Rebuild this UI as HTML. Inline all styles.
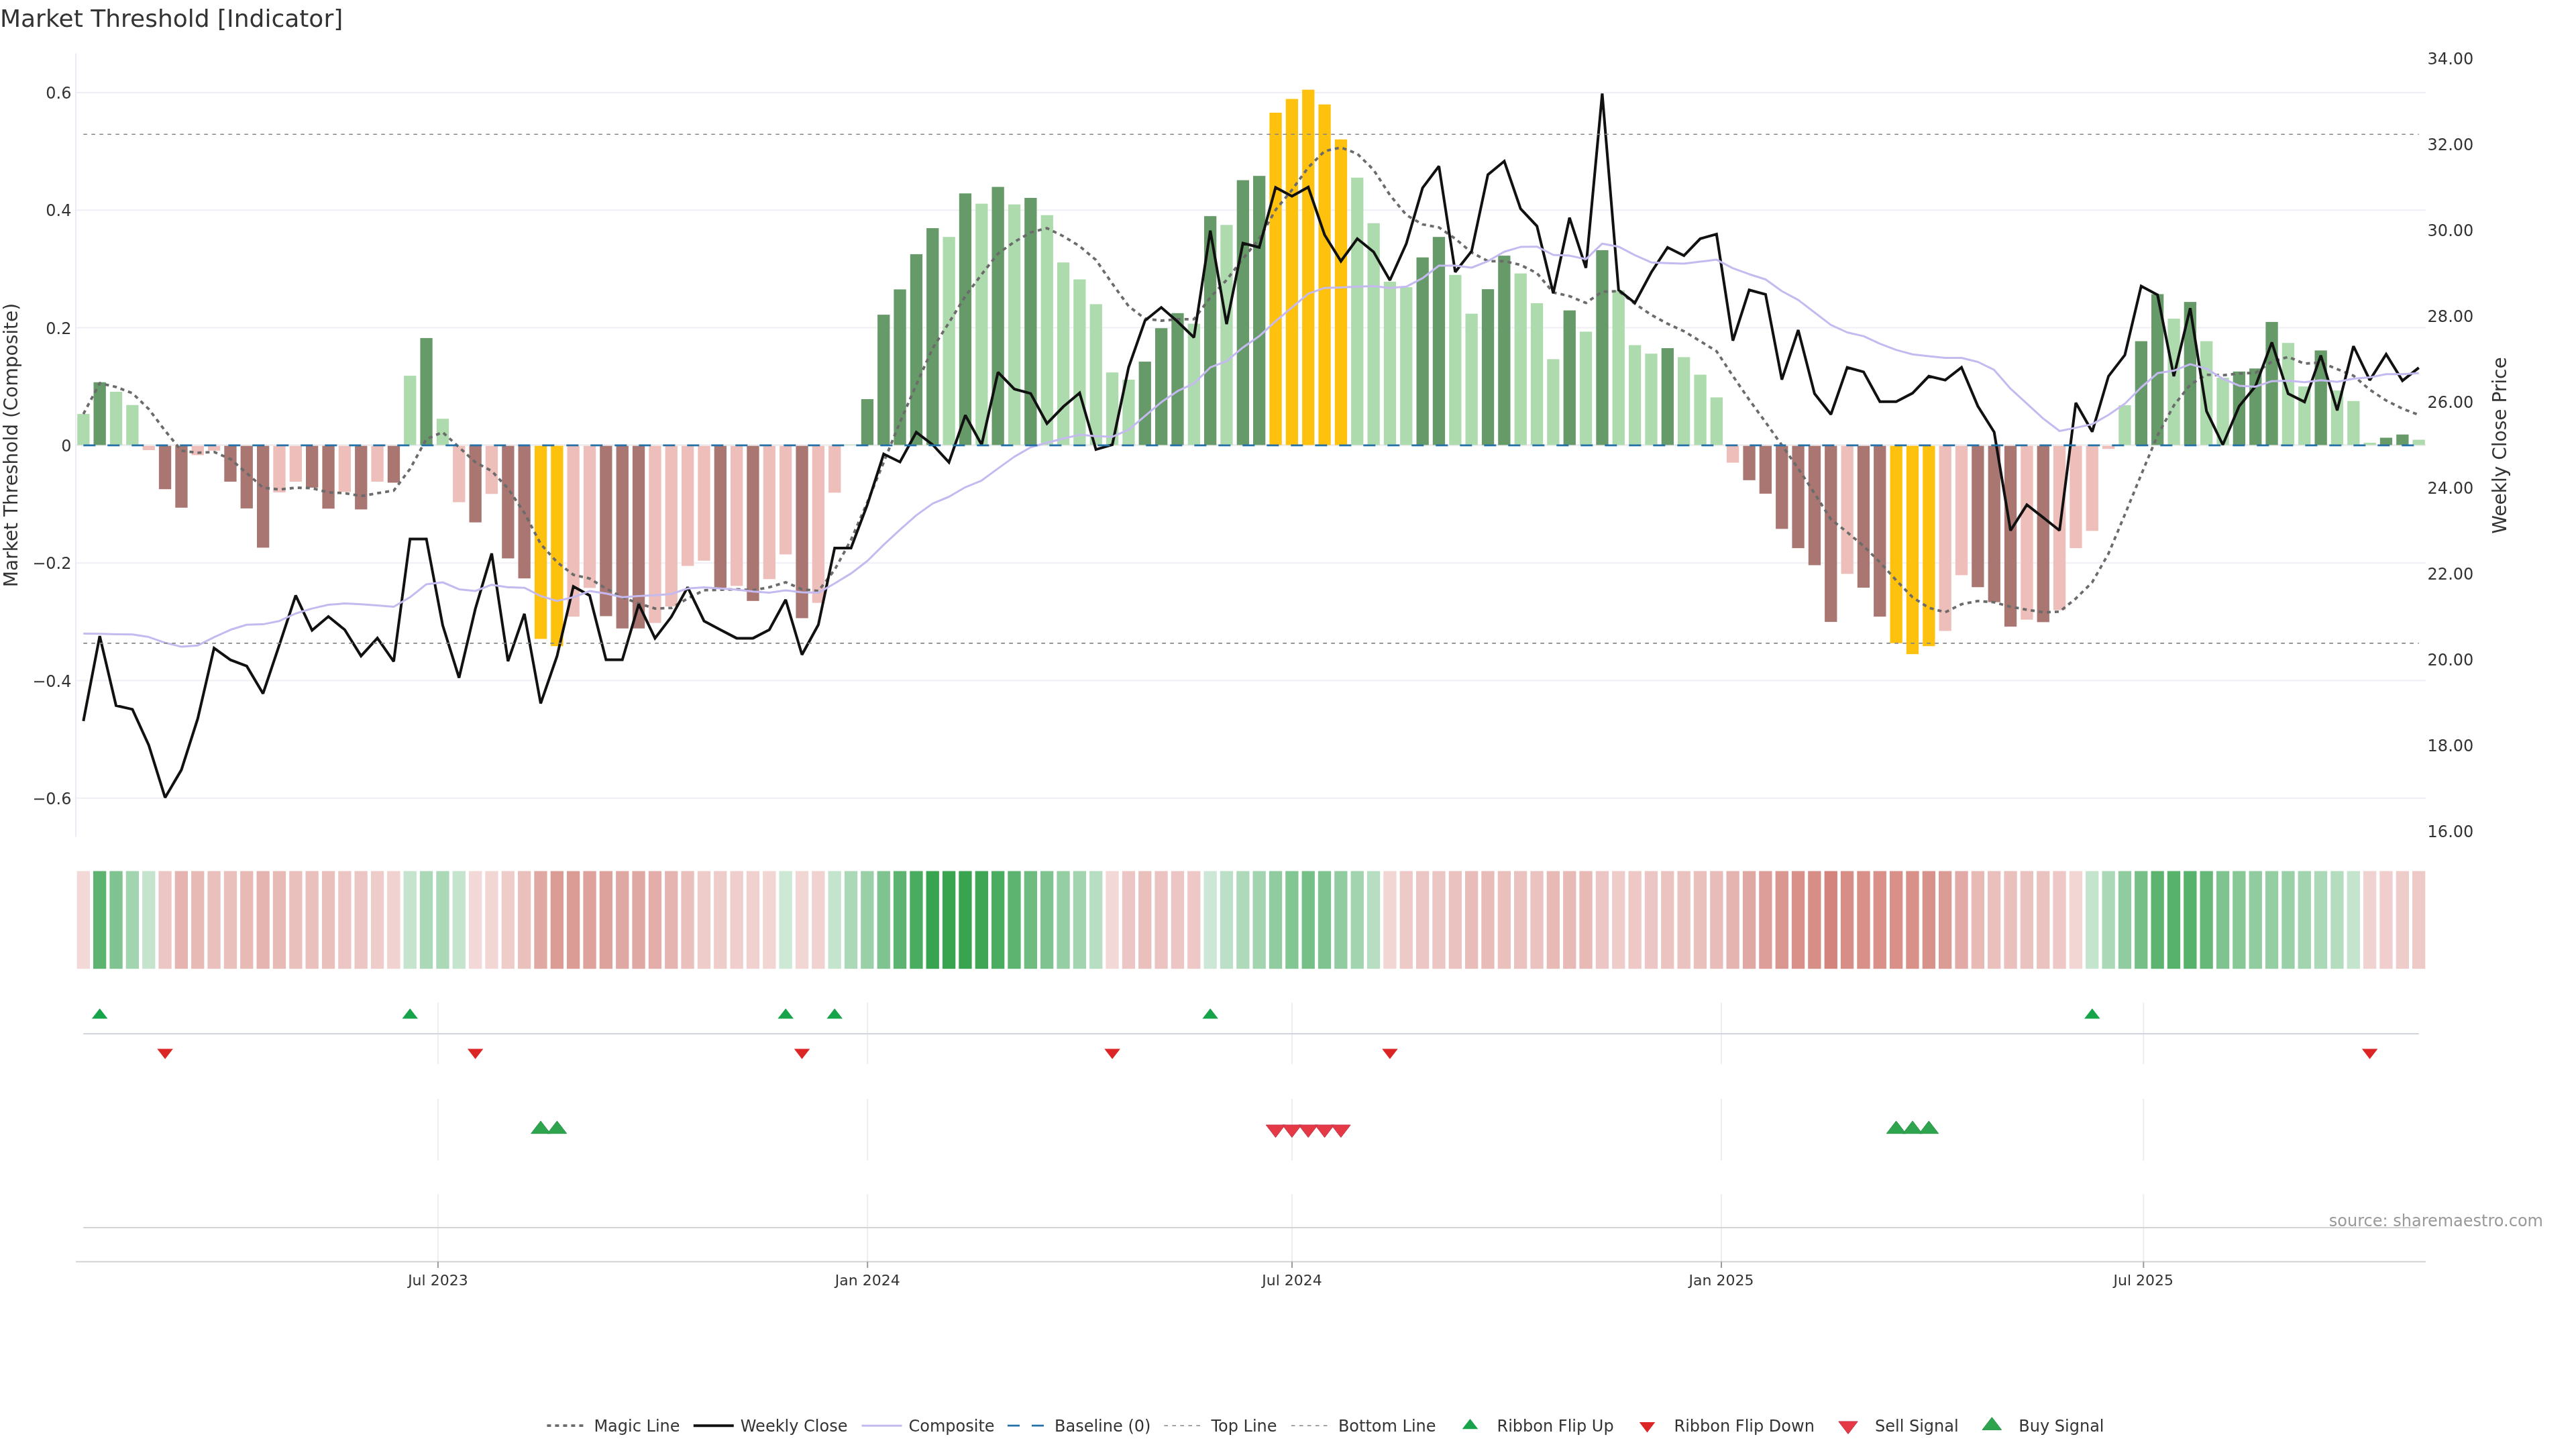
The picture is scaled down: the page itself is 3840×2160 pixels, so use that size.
<!DOCTYPE html>
<html lang="en">
<head>
<meta charset="utf-8">
<title>Market Threshold [Indicator]</title>
<style>
html,body{margin:0;padding:0;background:#ffffff;}
body{width:3840px;height:2160px;overflow:hidden;font-family:'DejaVu Sans','Liberation Sans',sans-serif;}
svg{display:block;will-change:transform;}
</style>
</head>
<body>
<svg width="3840" height="2160" viewBox="0 0 3840 2160">
<rect x="0" y="0" width="3840" height="2160" fill="#ffffff"/>
<g id="main-panel">
<line x1="113" x2="3616" y1="138" y2="138" stroke="#efeff5" stroke-width="2"/>
<line x1="113" x2="3616" y1="313.3" y2="313.3" stroke="#efeff5" stroke-width="2"/>
<line x1="113" x2="3616" y1="488.6" y2="488.6" stroke="#efeff5" stroke-width="2"/>
<line x1="113" x2="3616" y1="839.2" y2="839.2" stroke="#efeff5" stroke-width="2"/>
<line x1="113" x2="3616" y1="1014.5" y2="1014.5" stroke="#efeff5" stroke-width="2"/>
<line x1="113" x2="3616" y1="1189.8" y2="1189.8" stroke="#efeff5" stroke-width="2"/>
<line x1="113" x2="3616" y1="663.4" y2="663.4" stroke="#eeeef1" stroke-width="3"/>
<line x1="113" x2="113" y1="79.5" y2="1247.5" stroke="#ebebf3" stroke-width="2"/>
<g id="bars">
<rect x="115.2" y="617.1" width="18.3" height="46.3" fill="#aedbae"/>
<rect x="139.5" y="569.8" width="18.3" height="93.6" fill="#669a69"/>
<rect x="163.9" y="584" width="18.3" height="79.4" fill="#aedbae"/>
<rect x="188.2" y="603.7" width="18.3" height="59.7" fill="#aedbae"/>
<rect x="212.6" y="664.6" width="18.3" height="6.4" fill="#eebfba"/>
<rect x="236.9" y="664.6" width="18.3" height="64.6" fill="#a97671"/>
<rect x="261.3" y="664.6" width="18.3" height="92.2" fill="#a97671"/>
<rect x="285.6" y="664.6" width="18.3" height="13.9" fill="#eebfba"/>
<rect x="310" y="664.6" width="18.3" height="7.2" fill="#eebfba"/>
<rect x="334.3" y="664.6" width="18.3" height="53.4" fill="#a97671"/>
<rect x="358.6" y="664.6" width="18.3" height="93.3" fill="#a97671"/>
<rect x="383" y="664.6" width="18.3" height="151.8" fill="#a97671"/>
<rect x="407.3" y="664.6" width="18.3" height="69.4" fill="#eebfba"/>
<rect x="431.7" y="664.6" width="18.3" height="53.4" fill="#eebfba"/>
<rect x="456" y="664.6" width="18.3" height="62.3" fill="#a97671"/>
<rect x="480.4" y="664.6" width="18.3" height="93.6" fill="#a97671"/>
<rect x="504.7" y="664.6" width="18.3" height="68.7" fill="#eebfba"/>
<rect x="529.1" y="664.6" width="18.3" height="94.8" fill="#a97671"/>
<rect x="553.4" y="664.6" width="18.3" height="53.4" fill="#eebfba"/>
<rect x="577.8" y="664.6" width="18.3" height="54.9" fill="#a97671"/>
<rect x="602.1" y="560.1" width="18.3" height="103.3" fill="#aedbae"/>
<rect x="626.4" y="503.9" width="18.3" height="159.5" fill="#669a69"/>
<rect x="650.8" y="624.2" width="18.3" height="39.2" fill="#aedbae"/>
<rect x="675.1" y="664.6" width="18.3" height="84" fill="#eebfba"/>
<rect x="699.5" y="664.6" width="18.3" height="114.1" fill="#a97671"/>
<rect x="723.8" y="664.6" width="18.3" height="71.7" fill="#eebfba"/>
<rect x="748.2" y="664.6" width="18.3" height="167.8" fill="#a97671"/>
<rect x="772.5" y="664.6" width="18.3" height="197.6" fill="#a97671"/>
<rect x="796.9" y="664.6" width="18.3" height="287.8" fill="#fec10d"/>
<rect x="821.2" y="664.6" width="18.3" height="298.6" fill="#fec10d"/>
<rect x="845.5" y="664.6" width="18.3" height="254.6" fill="#eebfba"/>
<rect x="869.9" y="664.6" width="18.3" height="211.8" fill="#eebfba"/>
<rect x="894.2" y="664.6" width="18.3" height="253.9" fill="#a97671"/>
<rect x="918.6" y="664.6" width="18.3" height="272.2" fill="#a97671"/>
<rect x="942.9" y="664.6" width="18.3" height="272.2" fill="#a97671"/>
<rect x="967.3" y="664.6" width="18.3" height="264" fill="#eebfba"/>
<rect x="991.6" y="664.6" width="18.3" height="239.4" fill="#eebfba"/>
<rect x="1016" y="664.6" width="18.3" height="179" fill="#eebfba"/>
<rect x="1040.3" y="664.6" width="18.3" height="171.2" fill="#eebfba"/>
<rect x="1064.7" y="664.6" width="18.3" height="211.4" fill="#a97671"/>
<rect x="1089" y="664.6" width="18.3" height="208.8" fill="#eebfba"/>
<rect x="1113.3" y="664.6" width="18.3" height="231.2" fill="#a97671"/>
<rect x="1137.7" y="664.6" width="18.3" height="198.7" fill="#eebfba"/>
<rect x="1162" y="664.6" width="18.3" height="161.8" fill="#eebfba"/>
<rect x="1186.4" y="664.6" width="18.3" height="256.9" fill="#a97671"/>
<rect x="1210.7" y="664.6" width="18.3" height="234.1" fill="#eebfba"/>
<rect x="1235.1" y="664.6" width="18.3" height="69.8" fill="#eebfba"/>
<rect x="1259.4" y="662.6" width="18.3" height="0.8" fill="#aedbae"/>
<rect x="1283.8" y="595" width="18.3" height="68.4" fill="#669a69"/>
<rect x="1308.1" y="469.1" width="18.3" height="194.3" fill="#669a69"/>
<rect x="1332.4" y="431.4" width="18.3" height="232" fill="#669a69"/>
<rect x="1356.8" y="378.9" width="18.3" height="284.5" fill="#669a69"/>
<rect x="1381.1" y="340.1" width="18.3" height="323.3" fill="#669a69"/>
<rect x="1405.5" y="353.2" width="18.3" height="310.2" fill="#aedbae"/>
<rect x="1429.8" y="288.3" width="18.3" height="375.1" fill="#669a69"/>
<rect x="1454.2" y="303.6" width="18.3" height="359.8" fill="#aedbae"/>
<rect x="1478.5" y="278.6" width="18.3" height="384.8" fill="#669a69"/>
<rect x="1502.9" y="304.7" width="18.3" height="358.7" fill="#aedbae"/>
<rect x="1527.2" y="295" width="18.3" height="368.4" fill="#669a69"/>
<rect x="1551.6" y="320.7" width="18.3" height="342.7" fill="#aedbae"/>
<rect x="1575.9" y="391.2" width="18.3" height="272.2" fill="#aedbae"/>
<rect x="1600.2" y="416.5" width="18.3" height="246.9" fill="#aedbae"/>
<rect x="1624.6" y="453.4" width="18.3" height="210" fill="#aedbae"/>
<rect x="1648.9" y="555.2" width="18.3" height="108.2" fill="#aedbae"/>
<rect x="1673.3" y="566" width="18.3" height="97.4" fill="#aedbae"/>
<rect x="1697.6" y="539.1" width="18.3" height="124.3" fill="#669a69"/>
<rect x="1722" y="489.2" width="18.3" height="174.2" fill="#669a69"/>
<rect x="1746.3" y="466.8" width="18.3" height="196.6" fill="#669a69"/>
<rect x="1770.7" y="482.5" width="18.3" height="180.9" fill="#aedbae"/>
<rect x="1795" y="322.2" width="18.3" height="341.2" fill="#669a69"/>
<rect x="1819.3" y="335.3" width="18.3" height="328.1" fill="#aedbae"/>
<rect x="1843.7" y="268.6" width="18.3" height="394.8" fill="#669a69"/>
<rect x="1868" y="262.2" width="18.3" height="401.2" fill="#669a69"/>
<rect x="1892.4" y="168" width="18.3" height="495.4" fill="#fec10d"/>
<rect x="1916.7" y="147.5" width="18.3" height="515.9" fill="#fec10d"/>
<rect x="1941.1" y="133.7" width="18.3" height="529.7" fill="#fec10d"/>
<rect x="1965.4" y="155.7" width="18.3" height="507.7" fill="#fec10d"/>
<rect x="1989.8" y="207.8" width="18.3" height="455.6" fill="#fec10d"/>
<rect x="2014.1" y="264.8" width="18.3" height="398.6" fill="#aedbae"/>
<rect x="2038.5" y="332.7" width="18.3" height="330.7" fill="#aedbae"/>
<rect x="2062.8" y="419.9" width="18.3" height="243.5" fill="#aedbae"/>
<rect x="2087.1" y="428.1" width="18.3" height="235.3" fill="#aedbae"/>
<rect x="2111.5" y="383.7" width="18.3" height="279.7" fill="#669a69"/>
<rect x="2135.8" y="353.2" width="18.3" height="310.2" fill="#669a69"/>
<rect x="2160.2" y="409.8" width="18.3" height="253.6" fill="#aedbae"/>
<rect x="2184.5" y="467.6" width="18.3" height="195.8" fill="#aedbae"/>
<rect x="2208.9" y="431.1" width="18.3" height="232.3" fill="#669a69"/>
<rect x="2233.2" y="381.1" width="18.3" height="282.3" fill="#669a69"/>
<rect x="2257.6" y="407.6" width="18.3" height="255.8" fill="#aedbae"/>
<rect x="2281.9" y="451.9" width="18.3" height="211.5" fill="#aedbae"/>
<rect x="2306.2" y="535.4" width="18.3" height="128" fill="#aedbae"/>
<rect x="2330.6" y="462.7" width="18.3" height="200.7" fill="#669a69"/>
<rect x="2354.9" y="494.4" width="18.3" height="169" fill="#aedbae"/>
<rect x="2379.3" y="372.9" width="18.3" height="290.5" fill="#669a69"/>
<rect x="2403.6" y="432.9" width="18.3" height="230.5" fill="#aedbae"/>
<rect x="2428" y="514.5" width="18.3" height="148.9" fill="#aedbae"/>
<rect x="2452.3" y="527.2" width="18.3" height="136.2" fill="#aedbae"/>
<rect x="2476.7" y="519" width="18.3" height="144.4" fill="#669a69"/>
<rect x="2501" y="532.4" width="18.3" height="131" fill="#aedbae"/>
<rect x="2525.4" y="558.5" width="18.3" height="104.9" fill="#aedbae"/>
<rect x="2549.7" y="592.4" width="18.3" height="71" fill="#aedbae"/>
<rect x="2574" y="664.6" width="18.3" height="25.1" fill="#eebfba"/>
<rect x="2598.4" y="664.6" width="18.3" height="51.2" fill="#a97671"/>
<rect x="2622.7" y="664.6" width="18.3" height="71.3" fill="#a97671"/>
<rect x="2647.1" y="664.6" width="18.3" height="123.8" fill="#a97671"/>
<rect x="2671.4" y="664.6" width="18.3" height="152.5" fill="#a97671"/>
<rect x="2695.8" y="664.6" width="18.3" height="177.9" fill="#a97671"/>
<rect x="2720.1" y="664.6" width="18.3" height="262.5" fill="#a97671"/>
<rect x="2744.5" y="664.6" width="18.3" height="190.9" fill="#eebfba"/>
<rect x="2768.8" y="664.6" width="18.3" height="211.4" fill="#a97671"/>
<rect x="2793.1" y="664.6" width="18.3" height="254.6" fill="#a97671"/>
<rect x="2817.5" y="664.6" width="18.3" height="294.1" fill="#fec10d"/>
<rect x="2841.8" y="664.6" width="18.3" height="310.5" fill="#fec10d"/>
<rect x="2866.2" y="664.6" width="18.3" height="298.6" fill="#fec10d"/>
<rect x="2890.5" y="664.6" width="18.3" height="275.9" fill="#eebfba"/>
<rect x="2914.9" y="664.6" width="18.3" height="192.8" fill="#eebfba"/>
<rect x="2939.2" y="664.6" width="18.3" height="210.7" fill="#a97671"/>
<rect x="2963.6" y="664.6" width="18.3" height="233" fill="#a97671"/>
<rect x="2987.9" y="664.6" width="18.3" height="269.5" fill="#a97671"/>
<rect x="3012.3" y="664.6" width="18.3" height="259.1" fill="#eebfba"/>
<rect x="3036.6" y="664.6" width="18.3" height="262.8" fill="#a97671"/>
<rect x="3060.9" y="664.6" width="18.3" height="244.9" fill="#eebfba"/>
<rect x="3085.3" y="664.6" width="18.3" height="152.5" fill="#eebfba"/>
<rect x="3109.6" y="664.6" width="18.3" height="126.8" fill="#eebfba"/>
<rect x="3134" y="664.6" width="18.3" height="4.6" fill="#eebfba"/>
<rect x="3158.3" y="604.1" width="18.3" height="59.3" fill="#aedbae"/>
<rect x="3182.7" y="508.6" width="18.3" height="154.8" fill="#669a69"/>
<rect x="3207" y="438.5" width="18.3" height="224.9" fill="#669a69"/>
<rect x="3231.4" y="475" width="18.3" height="188.4" fill="#aedbae"/>
<rect x="3255.7" y="450.1" width="18.3" height="213.3" fill="#669a69"/>
<rect x="3280" y="508.6" width="18.3" height="154.8" fill="#aedbae"/>
<rect x="3304.4" y="563.1" width="18.3" height="100.3" fill="#aedbae"/>
<rect x="3328.7" y="553.8" width="18.3" height="109.6" fill="#669a69"/>
<rect x="3353.1" y="549.3" width="18.3" height="114.1" fill="#669a69"/>
<rect x="3377.4" y="479.9" width="18.3" height="183.5" fill="#669a69"/>
<rect x="3401.8" y="511.2" width="18.3" height="152.2" fill="#aedbae"/>
<rect x="3426.1" y="576.1" width="18.3" height="87.3" fill="#aedbae"/>
<rect x="3450.5" y="522.4" width="18.3" height="141" fill="#669a69"/>
<rect x="3474.8" y="582.1" width="18.3" height="81.3" fill="#aedbae"/>
<rect x="3499.2" y="597.8" width="18.3" height="65.6" fill="#aedbae"/>
<rect x="3523.5" y="660" width="18.3" height="3.4" fill="#aedbae"/>
<rect x="3547.8" y="652.5" width="18.3" height="10.9" fill="#669a69"/>
<rect x="3572.2" y="647.7" width="18.3" height="15.7" fill="#669a69"/>
<rect x="3596.5" y="655.5" width="18.3" height="7.9" fill="#aedbae"/>
</g>
<polyline points="124.3,617.1 148.7,571.2 173,576.9 197.4,586.1 221.7,609.7 246.1,642 270.4,671.8 294.8,674.8 319.1,673.8 343.5,684.2 367.8,705.3 392.1,727 416.5,729.7 440.8,727 465.2,727.7 489.5,733.9 513.9,735.2 538.2,739.4 562.6,735.2 586.9,731.4 611.2,699.1 635.6,654.4 659.9,644.3 684.3,666.7 708.6,689.1 733,702.1 757.3,728.2 781.7,764.5 806,810.9 830.4,838.1 854.7,856.8 879,862.4 903.4,877.3 927.7,890.3 952.1,899.6 976.4,907.1 1000.8,906.3 1025.1,892.2 1049.5,879.9 1073.8,879.1 1098.1,878.4 1122.5,879.9 1146.8,875.4 1171.2,868 1195.5,878.4 1219.9,881 1244.2,849.3 1268.6,804.7 1292.9,748.7 1317.3,689.1 1341.6,629.4 1365.9,573.5 1390.3,519 1414.6,481 1439,441.5 1463.3,409 1487.7,378.1 1512,360.6 1536.4,346.5 1560.7,340.1 1585,352.1 1609.4,367 1633.7,387.5 1658.1,422.9 1682.4,456.4 1706.8,475 1731.1,478 1755.5,475.8 1779.8,475.8 1804.2,443.4 1828.5,417.3 1852.8,385.6 1877.2,355.8 1901.5,312.9 1925.9,283.1 1950.2,249.6 1974.6,225.3 1998.9,219.8 2023.3,229.1 2047.6,253.3 2071.9,290.6 2096.3,320.4 2120.6,334.5 2145,339 2169.3,355.8 2193.7,376.3 2218,389.3 2242.4,389.3 2266.7,394.9 2291.1,407.2 2315.4,435.9 2339.7,441.5 2364.1,451.6 2388.4,434.8 2412.8,434 2437.1,452.7 2461.5,469.4 2485.8,482.5 2510.2,493.7 2534.5,508.6 2558.8,523.5 2583.2,560.5 2607.5,595.9 2631.9,629.4 2656.2,663.7 2680.6,698.4 2704.9,735.5 2729.3,774 2753.6,793.4 2778,813.9 2802.3,838.1 2826.6,865 2851,890.3 2875.3,906 2899.7,912.7 2924,900.7 2948.4,895.9 2972.7,897.8 2997.1,904.5 3021.4,908.9 3045.7,912.7 3070.1,911.9 3094.4,892.2 3118.8,868 3143.1,825.3 3167.5,767 3191.8,707.7 3216.2,649 3240.5,604.5 3264.9,573.5 3289.2,558.6 3313.5,559.4 3337.9,556.8 3362.2,555.7 3386.6,539.1 3410.9,532.1 3435.3,542.1 3459.6,540.3 3484,550.3 3508.3,560 3532.6,581 3557,597 3581.3,609.2 3605.7,618.5" fill="none" stroke="#6b6b6b" stroke-width="3.8" stroke-dasharray="6,6" stroke-linejoin="round"/>
<polyline points="124.3,1074.9 148.7,948.2 173,1051.8 197.4,1057.4 221.7,1110.7 246.1,1188.9 270.4,1147.6 294.8,1071.2 319.1,966.1 343.5,983.6 367.8,992.9 392.1,1033.9 416.5,961.1 440.8,887.7 465.2,939.5 489.5,919 513.9,938.8 538.2,977.9 562.6,951.1 586.9,986.1 611.2,803.5 635.6,803.5 659.9,932.1 684.3,1010.3 708.6,907.5 733,825.1 757.3,985.7 781.7,915 806,1048.7 830.4,977.9 854.7,874.3 879,887.7 903.4,983.5 927.7,983.5 952.1,900.7 976.4,951.4 1000.8,919.4 1025.1,875.4 1049.5,925.7 1073.8,938.8 1098.1,951.4 1122.5,951.4 1146.8,938.8 1171.2,894 1195.5,976 1219.9,931.3 1244.2,816.9 1268.6,816.9 1292.9,752.4 1317.3,676.8 1341.6,688.7 1365.9,644.3 1390.3,663 1414.6,689.1 1439,619 1463.3,663 1487.7,554.9 1512,579.9 1536.4,586.6 1560.7,631.3 1585,606.3 1609.4,585.8 1633.7,670.1 1658.1,663 1682.4,547.5 1706.8,478 1731.1,458.3 1755.5,479.5 1779.8,503 1804.2,343.9 1828.5,483.2 1852.8,362.5 1877.2,368.8 1901.5,279.4 1925.9,292.4 1950.2,279 1974.6,350.2 1998.9,389.3 2023.3,355.8 2047.6,375.5 2071.9,417.8 2096.3,363.2 2120.6,280.1 2145,247.7 2169.3,405.5 2193.7,374.4 2218,260.4 2242.4,240.3 2266.7,311.1 2291.1,337.1 2315.4,437 2339.7,324.5 2364.1,399.3 2388.4,139.5 2412.8,432.2 2437.1,451.5 2461.5,406 2485.8,368.8 2510.2,381.1 2534.5,355.8 2558.8,349.1 2583.2,507.8 2607.5,432.2 2631.9,438.9 2656.2,565.8 2680.6,492 2704.9,586.8 2729.3,617.8 2753.6,547.7 2778,554.4 2802.3,598.8 2826.6,598.8 2851,586.1 2875.3,560.8 2899.7,566.7 2924,547.7 2948.4,605.5 2972.7,644.3 2997.1,790.8 3021.4,752.4 3045.7,771.4 3070.1,790.8 3094.4,600.5 3118.8,643.6 3143.1,560.8 3167.5,529.1 3191.8,426.6 3216.2,439.6 3240.5,560.8 3264.9,459.4 3289.2,612.9 3313.5,663 3337.9,605.5 3362.2,575.7 3386.6,510.4 3410.9,586.8 3435.3,599.1 3459.6,529.8 3484,611.8 3508.3,516 3532.6,566.7 3557,528 3581.3,567.5 3605.7,548.1" fill="none" stroke="#111111" stroke-width="4" stroke-linejoin="miter" stroke-miterlimit="2"/>
<polyline points="124.3,944.4 148.7,944.7 173,945.5 197.4,945.8 221.7,949.6 246.1,958.1 270.4,964.1 294.8,962.2 319.1,949.9 343.5,938.8 367.8,931.3 392.1,930.6 416.5,925.7 440.8,914.5 465.2,907.1 489.5,901.5 513.9,899.6 538.2,900.7 562.6,902.6 586.9,904.5 611.2,890.3 635.6,870.9 659.9,868 684.3,878.4 708.6,881 733,871.7 757.3,875.4 781.7,876.2 806,888.5 830.4,895.9 854.7,890.3 879,881 903.4,884.7 927.7,890.3 952.1,888.5 976.4,887.3 1000.8,885.5 1025.1,877.3 1049.5,875.4 1073.8,877.3 1098.1,879.1 1122.5,881.7 1146.8,883.6 1171.2,879.9 1195.5,882.9 1219.9,883.6 1244.2,869.8 1268.6,854.9 1292.9,836.3 1317.3,812.1 1341.6,789.7 1365.9,768.1 1390.3,750.6 1414.6,740.5 1439,726.3 1463.3,716.3 1487.7,698.4 1512,680.9 1536.4,666.7 1560.7,660 1585,653.7 1609.4,648.1 1633.7,650.3 1658.1,651.1 1682.4,640.6 1706.8,620.1 1731.1,599.6 1755.5,582.9 1779.8,571.7 1804.2,547.7 1828.5,538.4 1852.8,517.9 1877.2,501.1 1901.5,478.8 1925.9,458.3 1950.2,437.8 1974.6,429.2 1998.9,428.5 2023.3,427.3 2047.6,426.6 2071.9,429.2 2096.3,427.3 2120.6,414.7 2145,396 2169.3,396 2193.7,399 2218,389.3 2242.4,375.2 2266.7,368.1 2291.1,367.7 2315.4,380 2339.7,381.1 2364.1,386.3 2388.4,363.2 2412.8,367.7 2437.1,380.4 2461.5,391.2 2485.8,392.3 2510.2,393 2534.5,390.1 2558.8,387.1 2583.2,399.8 2607.5,408.7 2631.9,416.5 2656.2,434 2680.6,447.1 2704.9,465.7 2729.3,484.4 2753.6,495.5 2778,501.1 2802.3,512.3 2826.6,521.6 2851,528.3 2875.3,530.9 2899.7,533.5 2924,533.5 2948.4,539.5 2972.7,551.4 2997.1,579.4 3021.4,601.7 3045.7,623.9 3070.1,642.5 3094.4,637.6 3118.8,632.4 3143.1,618.5 3167.5,601.7 3191.8,577.5 3216.2,556.3 3240.5,552.6 3264.9,542.9 3289.2,549.6 3313.5,564.5 3337.9,574.9 3362.2,576.4 3386.6,568.2 3410.9,567.5 3435.3,569.7 3459.6,566.7 3484,569.3 3508.3,564.5 3532.6,562.6 3557,557.8 3581.3,557.8 3605.7,556.3" fill="none" stroke="#c5baf0" stroke-width="3" stroke-linejoin="round"/>
<line x1="124.3" x2="3605.7" y1="663.9" y2="663.9" stroke="#2471a8" stroke-width="2.7" stroke-dasharray="18,18"/>
<line x1="124.3" x2="3605.7" y1="200.3" y2="200.3" stroke="#868686" stroke-width="1.6" stroke-dasharray="5.6,6.4"/>
<line x1="124.3" x2="3605.7" y1="958.9" y2="958.9" stroke="#868686" stroke-width="1.6" stroke-dasharray="5.6,6.4"/>
</g>
<g id="ribbon">
<rect x="114.7" y="1298.5" width="19.3" height="145.7" fill="#f2d8d7"/>
<rect x="139" y="1298.5" width="19.3" height="145.7" fill="#5cb470"/>
<rect x="163.4" y="1298.5" width="19.3" height="145.7" fill="#7fc490"/>
<rect x="187.7" y="1298.5" width="19.3" height="145.7" fill="#a2d4af"/>
<rect x="212.1" y="1298.5" width="19.3" height="145.7" fill="#c5e4ce"/>
<rect x="236.4" y="1298.5" width="19.3" height="145.7" fill="#ecc6c4"/>
<rect x="260.7" y="1298.5" width="19.3" height="145.7" fill="#e5b4b0"/>
<rect x="285.1" y="1298.5" width="19.3" height="145.7" fill="#e7bab6"/>
<rect x="309.4" y="1298.5" width="19.3" height="145.7" fill="#eac0bd"/>
<rect x="333.8" y="1298.5" width="19.3" height="145.7" fill="#eac0bd"/>
<rect x="358.1" y="1298.5" width="19.3" height="145.7" fill="#e7bab6"/>
<rect x="382.5" y="1298.5" width="19.3" height="145.7" fill="#e5b4b0"/>
<rect x="406.8" y="1298.5" width="19.3" height="145.7" fill="#e7bab6"/>
<rect x="431.2" y="1298.5" width="19.3" height="145.7" fill="#eac0bd"/>
<rect x="455.5" y="1298.5" width="19.3" height="145.7" fill="#eac0bd"/>
<rect x="479.9" y="1298.5" width="19.3" height="145.7" fill="#eac0bd"/>
<rect x="504.2" y="1298.5" width="19.3" height="145.7" fill="#ecc6c4"/>
<rect x="528.5" y="1298.5" width="19.3" height="145.7" fill="#ecc6c4"/>
<rect x="552.9" y="1298.5" width="19.3" height="145.7" fill="#eeccca"/>
<rect x="577.2" y="1298.5" width="19.3" height="145.7" fill="#f0d2d0"/>
<rect x="601.6" y="1298.5" width="19.3" height="145.7" fill="#c5e4ce"/>
<rect x="625.9" y="1298.5" width="19.3" height="145.7" fill="#abd8b7"/>
<rect x="650.3" y="1298.5" width="19.3" height="145.7" fill="#abd8b7"/>
<rect x="674.6" y="1298.5" width="19.3" height="145.7" fill="#c5e4ce"/>
<rect x="699" y="1298.5" width="19.3" height="145.7" fill="#f2d8d7"/>
<rect x="723.3" y="1298.5" width="19.3" height="145.7" fill="#f2d6d4"/>
<rect x="747.6" y="1298.5" width="19.3" height="145.7" fill="#eeccca"/>
<rect x="772" y="1298.5" width="19.3" height="145.7" fill="#eac0bd"/>
<rect x="796.3" y="1298.5" width="19.3" height="145.7" fill="#e0a8a3"/>
<rect x="820.7" y="1298.5" width="19.3" height="145.7" fill="#dc9c96"/>
<rect x="845" y="1298.5" width="19.3" height="145.7" fill="#dc9c96"/>
<rect x="869.4" y="1298.5" width="19.3" height="145.7" fill="#dea29c"/>
<rect x="893.7" y="1298.5" width="19.3" height="145.7" fill="#dea29c"/>
<rect x="918.1" y="1298.5" width="19.3" height="145.7" fill="#e0a8a3"/>
<rect x="942.4" y="1298.5" width="19.3" height="145.7" fill="#e0a8a3"/>
<rect x="966.8" y="1298.5" width="19.3" height="145.7" fill="#e3aeaa"/>
<rect x="991.1" y="1298.5" width="19.3" height="145.7" fill="#e5b4b0"/>
<rect x="1015.4" y="1298.5" width="19.3" height="145.7" fill="#eac0bd"/>
<rect x="1039.8" y="1298.5" width="19.3" height="145.7" fill="#eeccca"/>
<rect x="1064.1" y="1298.5" width="19.3" height="145.7" fill="#eeccca"/>
<rect x="1088.5" y="1298.5" width="19.3" height="145.7" fill="#efcecd"/>
<rect x="1112.8" y="1298.5" width="19.3" height="145.7" fill="#f0d1cf"/>
<rect x="1137.2" y="1298.5" width="19.3" height="145.7" fill="#f2d6d4"/>
<rect x="1161.5" y="1298.5" width="19.3" height="145.7" fill="#cee8d6"/>
<rect x="1185.9" y="1298.5" width="19.3" height="145.7" fill="#f2d6d4"/>
<rect x="1210.2" y="1298.5" width="19.3" height="145.7" fill="#f0d2d0"/>
<rect x="1234.5" y="1298.5" width="19.3" height="145.7" fill="#c5e4ce"/>
<rect x="1258.9" y="1298.5" width="19.3" height="145.7" fill="#abd8b7"/>
<rect x="1283.2" y="1298.5" width="19.3" height="145.7" fill="#99d0a7"/>
<rect x="1307.6" y="1298.5" width="19.3" height="145.7" fill="#7fc490"/>
<rect x="1331.9" y="1298.5" width="19.3" height="145.7" fill="#5cb470"/>
<rect x="1356.3" y="1298.5" width="19.3" height="145.7" fill="#4aac60"/>
<rect x="1380.6" y="1298.5" width="19.3" height="145.7" fill="#39a450"/>
<rect x="1405" y="1298.5" width="19.3" height="145.7" fill="#39a450"/>
<rect x="1429.3" y="1298.5" width="19.3" height="145.7" fill="#39a450"/>
<rect x="1453.7" y="1298.5" width="19.3" height="145.7" fill="#3ea655"/>
<rect x="1478" y="1298.5" width="19.3" height="145.7" fill="#4aac60"/>
<rect x="1502.3" y="1298.5" width="19.3" height="145.7" fill="#5cb470"/>
<rect x="1526.7" y="1298.5" width="19.3" height="145.7" fill="#6ebc80"/>
<rect x="1551" y="1298.5" width="19.3" height="145.7" fill="#7fc490"/>
<rect x="1575.4" y="1298.5" width="19.3" height="145.7" fill="#94cea2"/>
<rect x="1599.7" y="1298.5" width="19.3" height="145.7" fill="#a2d4af"/>
<rect x="1624.1" y="1298.5" width="19.3" height="145.7" fill="#b7dec2"/>
<rect x="1648.4" y="1298.5" width="19.3" height="145.7" fill="#f2d8d7"/>
<rect x="1672.8" y="1298.5" width="19.3" height="145.7" fill="#ecc6c4"/>
<rect x="1697.1" y="1298.5" width="19.3" height="145.7" fill="#eac0bd"/>
<rect x="1721.4" y="1298.5" width="19.3" height="145.7" fill="#ebc4c1"/>
<rect x="1745.8" y="1298.5" width="19.3" height="145.7" fill="#ecc6c4"/>
<rect x="1770.1" y="1298.5" width="19.3" height="145.7" fill="#edc8c6"/>
<rect x="1794.5" y="1298.5" width="19.3" height="145.7" fill="#cce7d5"/>
<rect x="1818.8" y="1298.5" width="19.3" height="145.7" fill="#bce0c7"/>
<rect x="1843.2" y="1298.5" width="19.3" height="145.7" fill="#aedaba"/>
<rect x="1867.5" y="1298.5" width="19.3" height="145.7" fill="#a2d4af"/>
<rect x="1891.9" y="1298.5" width="19.3" height="145.7" fill="#90cc9f"/>
<rect x="1916.2" y="1298.5" width="19.3" height="145.7" fill="#82c693"/>
<rect x="1940.6" y="1298.5" width="19.3" height="145.7" fill="#76c088"/>
<rect x="1964.9" y="1298.5" width="19.3" height="145.7" fill="#7fc490"/>
<rect x="1989.2" y="1298.5" width="19.3" height="145.7" fill="#90cc9f"/>
<rect x="2013.6" y="1298.5" width="19.3" height="145.7" fill="#a2d4af"/>
<rect x="2037.9" y="1298.5" width="19.3" height="145.7" fill="#b7dec2"/>
<rect x="2062.3" y="1298.5" width="19.3" height="145.7" fill="#f2d6d4"/>
<rect x="2086.6" y="1298.5" width="19.3" height="145.7" fill="#edcac7"/>
<rect x="2111" y="1298.5" width="19.3" height="145.7" fill="#ecc6c4"/>
<rect x="2135.3" y="1298.5" width="19.3" height="145.7" fill="#ecc6c4"/>
<rect x="2159.7" y="1298.5" width="19.3" height="145.7" fill="#eac2c0"/>
<rect x="2184" y="1298.5" width="19.3" height="145.7" fill="#e8bcb9"/>
<rect x="2208.3" y="1298.5" width="19.3" height="145.7" fill="#e8bcb9"/>
<rect x="2232.7" y="1298.5" width="19.3" height="145.7" fill="#eac0bd"/>
<rect x="2257" y="1298.5" width="19.3" height="145.7" fill="#eac2c0"/>
<rect x="2281.4" y="1298.5" width="19.3" height="145.7" fill="#eac2c0"/>
<rect x="2305.7" y="1298.5" width="19.3" height="145.7" fill="#e7bab6"/>
<rect x="2330.1" y="1298.5" width="19.3" height="145.7" fill="#e7bab6"/>
<rect x="2354.4" y="1298.5" width="19.3" height="145.7" fill="#e7bab6"/>
<rect x="2378.8" y="1298.5" width="19.3" height="145.7" fill="#ecc6c4"/>
<rect x="2403.1" y="1298.5" width="19.3" height="145.7" fill="#eeccca"/>
<rect x="2427.5" y="1298.5" width="19.3" height="145.7" fill="#edc8c6"/>
<rect x="2451.8" y="1298.5" width="19.3" height="145.7" fill="#ecc6c4"/>
<rect x="2476.1" y="1298.5" width="19.3" height="145.7" fill="#ebc4c1"/>
<rect x="2500.5" y="1298.5" width="19.3" height="145.7" fill="#eac2c0"/>
<rect x="2524.8" y="1298.5" width="19.3" height="145.7" fill="#eac0bd"/>
<rect x="2549.2" y="1298.5" width="19.3" height="145.7" fill="#e8bcb9"/>
<rect x="2573.5" y="1298.5" width="19.3" height="145.7" fill="#e5b4b0"/>
<rect x="2597.9" y="1298.5" width="19.3" height="145.7" fill="#e0a8a3"/>
<rect x="2622.2" y="1298.5" width="19.3" height="145.7" fill="#dd9e99"/>
<rect x="2646.6" y="1298.5" width="19.3" height="145.7" fill="#da9690"/>
<rect x="2670.9" y="1298.5" width="19.3" height="145.7" fill="#d89089"/>
<rect x="2695.2" y="1298.5" width="19.3" height="145.7" fill="#d78e86"/>
<rect x="2719.6" y="1298.5" width="19.3" height="145.7" fill="#d3847c"/>
<rect x="2743.9" y="1298.5" width="19.3" height="145.7" fill="#d78e86"/>
<rect x="2768.3" y="1298.5" width="19.3" height="145.7" fill="#d89089"/>
<rect x="2792.6" y="1298.5" width="19.3" height="145.7" fill="#d89089"/>
<rect x="2817" y="1298.5" width="19.3" height="145.7" fill="#d89089"/>
<rect x="2841.3" y="1298.5" width="19.3" height="145.7" fill="#d89089"/>
<rect x="2865.7" y="1298.5" width="19.3" height="145.7" fill="#d8928c"/>
<rect x="2890" y="1298.5" width="19.3" height="145.7" fill="#dc9c96"/>
<rect x="2914.4" y="1298.5" width="19.3" height="145.7" fill="#e1aaa6"/>
<rect x="2938.7" y="1298.5" width="19.3" height="145.7" fill="#e7bab6"/>
<rect x="2963" y="1298.5" width="19.3" height="145.7" fill="#eac0bd"/>
<rect x="2987.4" y="1298.5" width="19.3" height="145.7" fill="#eac0bd"/>
<rect x="3011.7" y="1298.5" width="19.3" height="145.7" fill="#eac2c0"/>
<rect x="3036.1" y="1298.5" width="19.3" height="145.7" fill="#eac2c0"/>
<rect x="3060.4" y="1298.5" width="19.3" height="145.7" fill="#edc8c6"/>
<rect x="3084.8" y="1298.5" width="19.3" height="145.7" fill="#f2d6d4"/>
<rect x="3109.1" y="1298.5" width="19.3" height="145.7" fill="#c5e4ce"/>
<rect x="3133.5" y="1298.5" width="19.3" height="145.7" fill="#abd8b7"/>
<rect x="3157.8" y="1298.5" width="19.3" height="145.7" fill="#90cc9f"/>
<rect x="3182.1" y="1298.5" width="19.3" height="145.7" fill="#76c088"/>
<rect x="3206.5" y="1298.5" width="19.3" height="145.7" fill="#5cb470"/>
<rect x="3230.8" y="1298.5" width="19.3" height="145.7" fill="#57b26b"/>
<rect x="3255.2" y="1298.5" width="19.3" height="145.7" fill="#57b26b"/>
<rect x="3279.5" y="1298.5" width="19.3" height="145.7" fill="#65b878"/>
<rect x="3303.9" y="1298.5" width="19.3" height="145.7" fill="#7fc490"/>
<rect x="3328.2" y="1298.5" width="19.3" height="145.7" fill="#88c897"/>
<rect x="3352.6" y="1298.5" width="19.3" height="145.7" fill="#90cc9f"/>
<rect x="3376.9" y="1298.5" width="19.3" height="145.7" fill="#94cea2"/>
<rect x="3401.3" y="1298.5" width="19.3" height="145.7" fill="#99d0a7"/>
<rect x="3425.6" y="1298.5" width="19.3" height="145.7" fill="#a2d4af"/>
<rect x="3449.9" y="1298.5" width="19.3" height="145.7" fill="#abd8b7"/>
<rect x="3474.3" y="1298.5" width="19.3" height="145.7" fill="#b4dcbf"/>
<rect x="3498.6" y="1298.5" width="19.3" height="145.7" fill="#c5e4ce"/>
<rect x="3523" y="1298.5" width="19.3" height="145.7" fill="#f0d2d0"/>
<rect x="3547.3" y="1298.5" width="19.3" height="145.7" fill="#efcecd"/>
<rect x="3571.7" y="1298.5" width="19.3" height="145.7" fill="#eeccca"/>
<rect x="3596" y="1298.5" width="19.3" height="145.7" fill="#edcac7"/>
</g>
<g id="panels">
<line x1="652.9" x2="652.9" y1="1494.7" y2="1586.2" stroke="#ecedf2" stroke-width="2"/>
<line x1="652.9" x2="652.9" y1="1638.0" y2="1729.9" stroke="#ecedf2" stroke-width="2"/>
<line x1="652.9" x2="652.9" y1="1780.2" y2="1880.8" stroke="#ecedf2" stroke-width="2"/>
<line x1="1293.2" x2="1293.2" y1="1494.7" y2="1586.2" stroke="#ecedf2" stroke-width="2"/>
<line x1="1293.2" x2="1293.2" y1="1638.0" y2="1729.9" stroke="#ecedf2" stroke-width="2"/>
<line x1="1293.2" x2="1293.2" y1="1780.2" y2="1880.8" stroke="#ecedf2" stroke-width="2"/>
<line x1="1926.0" x2="1926.0" y1="1494.7" y2="1586.2" stroke="#ecedf2" stroke-width="2"/>
<line x1="1926.0" x2="1926.0" y1="1638.0" y2="1729.9" stroke="#ecedf2" stroke-width="2"/>
<line x1="1926.0" x2="1926.0" y1="1780.2" y2="1880.8" stroke="#ecedf2" stroke-width="2"/>
<line x1="2566.0" x2="2566.0" y1="1494.7" y2="1586.2" stroke="#ecedf2" stroke-width="2"/>
<line x1="2566.0" x2="2566.0" y1="1638.0" y2="1729.9" stroke="#ecedf2" stroke-width="2"/>
<line x1="2566.0" x2="2566.0" y1="1780.2" y2="1880.8" stroke="#ecedf2" stroke-width="2"/>
<line x1="3195.3" x2="3195.3" y1="1494.7" y2="1586.2" stroke="#ecedf2" stroke-width="2"/>
<line x1="3195.3" x2="3195.3" y1="1638.0" y2="1729.9" stroke="#ecedf2" stroke-width="2"/>
<line x1="3195.3" x2="3195.3" y1="1780.2" y2="1880.8" stroke="#ecedf2" stroke-width="2"/>
<line x1="124.3" x2="3605.7" y1="1540.9" y2="1540.9" stroke="#d0d4dd" stroke-width="2"/>
<line x1="124.3" x2="3605.7" y1="1829.9" y2="1829.9" stroke="#d3d3d3" stroke-width="2"/>
<line x1="113" x2="3616" y1="1880.8" y2="1880.8" stroke="#d3d3d3" stroke-width="2"/>
<line x1="652.9" x2="652.9" y1="1880.8" y2="1890" stroke="#9a9a9a" stroke-width="2"/>
<line x1="1293.2" x2="1293.2" y1="1880.8" y2="1890" stroke="#9a9a9a" stroke-width="2"/>
<line x1="1926.0" x2="1926.0" y1="1880.8" y2="1890" stroke="#9a9a9a" stroke-width="2"/>
<line x1="2566.0" x2="2566.0" y1="1880.8" y2="1890" stroke="#9a9a9a" stroke-width="2"/>
<line x1="3195.3" x2="3195.3" y1="1880.8" y2="1890" stroke="#9a9a9a" stroke-width="2"/>
<polygon points="136.9,1518.5 160.5,1518.5 148.7,1503.2" fill="#16a34a"/>
<polygon points="599.5,1518.5 623,1518.5 611.2,1503.2" fill="#16a34a"/>
<polygon points="1159.4,1518.5 1183,1518.5 1171.2,1503.2" fill="#16a34a"/>
<polygon points="1232.4,1518.5 1256,1518.5 1244.2,1503.2" fill="#16a34a"/>
<polygon points="1792.4,1518.5 1815.9,1518.5 1804.2,1503.2" fill="#16a34a"/>
<polygon points="3107,1518.5 3130.6,1518.5 3118.8,1503.2" fill="#16a34a"/>
<polygon points="234.3,1563.5 257.9,1563.5 246.1,1578.8" fill="#dc2626"/>
<polygon points="696.9,1563.5 720.4,1563.5 708.6,1578.8" fill="#dc2626"/>
<polygon points="1183.8,1563.5 1207.3,1563.5 1195.5,1578.8" fill="#dc2626"/>
<polygon points="1646.3,1563.5 1669.9,1563.5 1658.1,1578.8" fill="#dc2626"/>
<polygon points="2060.2,1563.5 2083.7,1563.5 2071.9,1578.8" fill="#dc2626"/>
<polygon points="3520.9,1563.5 3544.4,1563.5 3532.6,1578.8" fill="#dc2626"/>
<polygon points="1887.3,1677 1915.7,1677 1901.5,1695.5" fill="#e63946" stroke="#c9334a" stroke-width="1"/>
<polygon points="1911.7,1677 1940.1,1677 1925.9,1695.5" fill="#e63946" stroke="#c9334a" stroke-width="1"/>
<polygon points="1936,1677 1964.4,1677 1950.2,1695.5" fill="#e63946" stroke="#c9334a" stroke-width="1"/>
<polygon points="1960.4,1677 1988.8,1677 1974.6,1695.5" fill="#e63946" stroke="#c9334a" stroke-width="1"/>
<polygon points="1984.7,1677 2013.1,1677 1998.9,1695.5" fill="#e63946" stroke="#c9334a" stroke-width="1"/>
<polygon points="791.7,1689.7 820.3,1689.7 806,1671.1" fill="#2ea44f" stroke="#2a9548" stroke-width="1"/>
<polygon points="816,1689.7 844.7,1689.7 830.4,1671.1" fill="#2ea44f" stroke="#2a9548" stroke-width="1"/>
<polygon points="2812.3,1689.7 2841,1689.7 2826.6,1671.1" fill="#2ea44f" stroke="#2a9548" stroke-width="1"/>
<polygon points="2836.7,1689.7 2865.3,1689.7 2851,1671.1" fill="#2ea44f" stroke="#2a9548" stroke-width="1"/>
<polygon points="2861,1689.7 2889.7,1689.7 2875.3,1671.1" fill="#2ea44f" stroke="#2a9548" stroke-width="1"/>
</g>
<g id="labels" font-family="'DejaVu Sans','Liberation Sans',sans-serif" fill="#333333">
<text x="0" y="40" font-size="36">Market Threshold [Indicator]</text>
<text x="106.5" y="147" font-size="24" text-anchor="end">0.6</text>
<text x="106.5" y="322.3" font-size="24" text-anchor="end">0.4</text>
<text x="106.5" y="497.6" font-size="24" text-anchor="end">0.2</text>
<text x="106.5" y="672.9" font-size="24" text-anchor="end">0</text>
<text x="106.5" y="848.2" font-size="24" text-anchor="end">−0.2</text>
<text x="106.5" y="1023.5" font-size="24" text-anchor="end">−0.4</text>
<text x="106.5" y="1198.8" font-size="24" text-anchor="end">−0.6</text>
<text x="3618.6" y="95.9" font-size="24">34.00</text>
<text x="3618.6" y="223.9" font-size="24">32.00</text>
<text x="3618.6" y="351.9" font-size="24">30.00</text>
<text x="3618.6" y="479.9" font-size="24">28.00</text>
<text x="3618.6" y="607.9" font-size="24">26.00</text>
<text x="3618.6" y="735.9" font-size="24">24.00</text>
<text x="3618.6" y="863.9" font-size="24">22.00</text>
<text x="3618.6" y="991.9" font-size="24">20.00</text>
<text x="3618.6" y="1119.9" font-size="24">18.00</text>
<text x="3618.6" y="1247.9" font-size="24">16.00</text>
<text x="652.9" y="1916.2" font-size="22" text-anchor="middle">Jul 2023</text>
<text x="1293.2" y="1916.2" font-size="22" text-anchor="middle">Jan 2024</text>
<text x="1926.0" y="1916.2" font-size="22" text-anchor="middle">Jul 2024</text>
<text x="2566.0" y="1916.2" font-size="22" text-anchor="middle">Jan 2025</text>
<text x="3195.3" y="1916.2" font-size="22" text-anchor="middle">Jul 2025</text>
<text transform="translate(26,663.5) rotate(-90)" font-size="28" text-anchor="middle">Market Threshold (Composite)</text>
<text transform="translate(3736,664) rotate(-90)" font-size="28" text-anchor="middle">Weekly Close Price</text>
<text x="3791" y="1828" font-size="24" text-anchor="end" fill="#999999">source: sharemaestro.com</text>
</g>
<g id="legend" font-family="'DejaVu Sans','Liberation Sans',sans-serif" fill="#333333" font-size="24">
<line x1="815.4" x2="875.4" y1="2125.2" y2="2125.2" stroke="#6b6b6b" stroke-width="3.8" stroke-dasharray="6,6"/>
<text x="885.4" y="2133.8">Magic Line</text>
<line x1="1033.8" x2="1093.8" y1="2125.2" y2="2125.2" stroke="#111111" stroke-width="4"/>
<text x="1103.8" y="2133.8">Weekly Close</text>
<line x1="1284.5" x2="1344.5" y1="2125.2" y2="2125.2" stroke="#c5baf0" stroke-width="3"/>
<text x="1354.5" y="2133.8">Composite</text>
<line x1="1502" x2="1562" y1="2125.2" y2="2125.2" stroke="#2471a8" stroke-width="2.7" stroke-dasharray="18,18"/>
<text x="1572" y="2133.8">Baseline (0)</text>
<line x1="1735.4" x2="1795.4" y1="2125.2" y2="2125.2" stroke="#868686" stroke-width="1.6" stroke-dasharray="5.6,6.4"/>
<text x="1805.4" y="2133.8">Top Line</text>
<line x1="1924.9" x2="1984.9" y1="2125.2" y2="2125.2" stroke="#868686" stroke-width="1.6" stroke-dasharray="5.6,6.4"/>
<text x="1994.9" y="2133.8">Bottom Line</text>
<polygon points="2179.7,2130.3 2203.3,2130.3 2191.5,2115" fill="#16a34a"/>
<text x="2231.5" y="2133.8">Ribbon Flip Up</text>
<polygon points="2443.7,2120.1 2467.3,2120.1 2455.5,2135.4" fill="#dc2626"/>
<text x="2495.5" y="2133.8">Ribbon Flip Down</text>
<polygon points="2740.8,2119 2769.2,2119 2755,2137.5" fill="#e63946" stroke="#c9334a" stroke-width="1"/>
<text x="2795" y="2133.8">Sell Signal</text>
<polygon points="2955,2131.4 2983.6,2131.4 2969.3,2112.8" fill="#2ea44f" stroke="#2a9548" stroke-width="1"/>
<text x="3009.3" y="2133.8">Buy Signal</text>
</g>
</svg>
</body>
</html>
